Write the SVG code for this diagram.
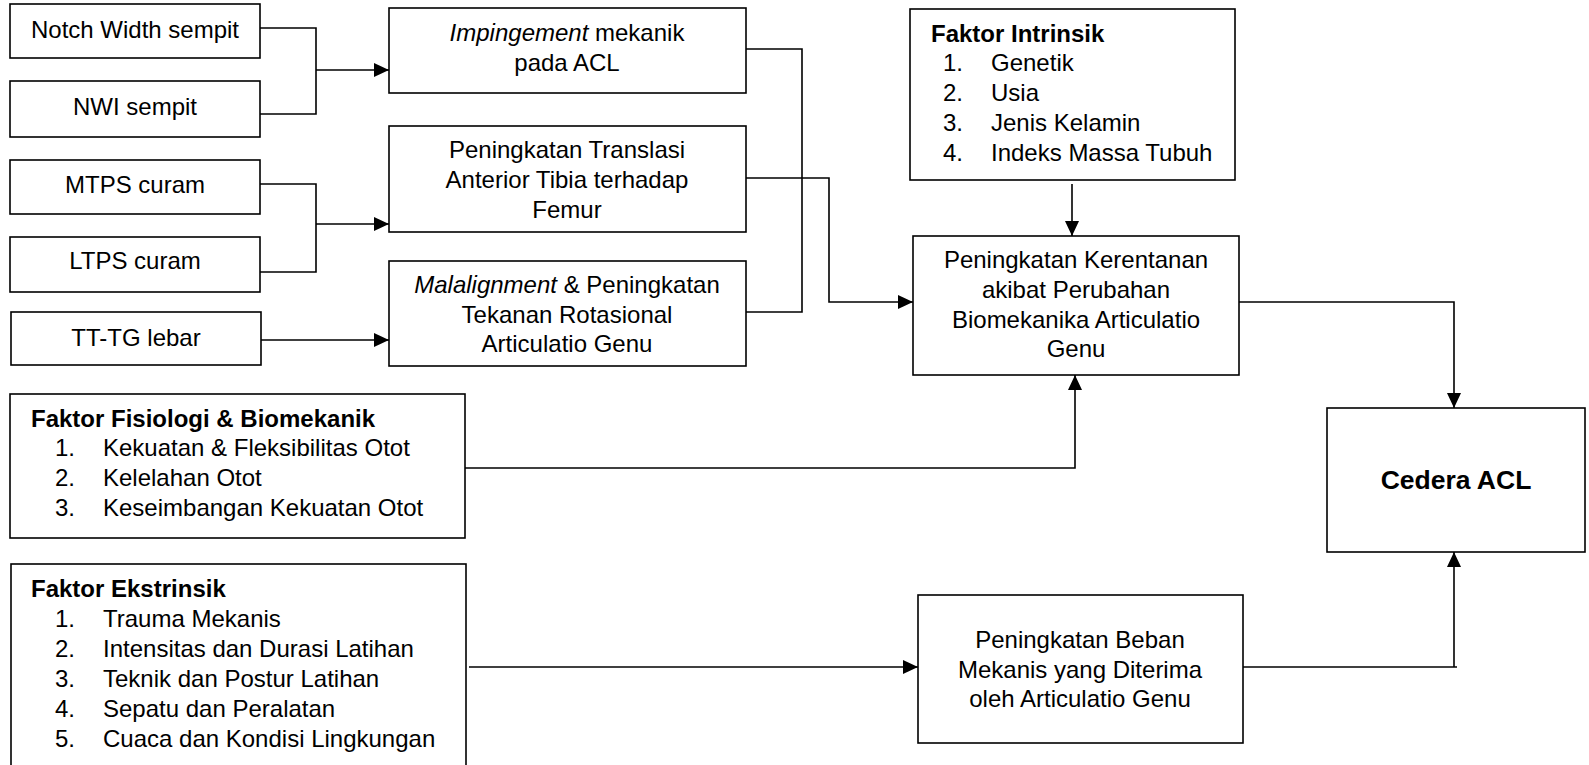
<svg xmlns="http://www.w3.org/2000/svg" width="1589" height="765" viewBox="0 0 1589 765">
<defs>
<style>
.box{fill:#fff;stroke:#000;stroke-width:1.6}
.t{font-family:"Liberation Sans",Arial,sans-serif;font-size:24px;fill:#000}
.c{text-anchor:middle}
.b{font-weight:bold}
.conn path{fill:none;stroke:#000;stroke-width:1.6}
</style>
<marker id="arr" markerUnits="userSpaceOnUse" markerWidth="16" markerHeight="14" refX="15" refY="7" orient="auto">
<path d="M0,0 L15,7 L0,14 z" fill="#000"/>
</marker>
</defs>
<rect width="1589" height="765" fill="#fff"/>

<g class="conn" id="connectors">
<path d="M260,28 H316 V114 H260"/>
<path d="M316,70 H389" marker-end="url(#arr)"/>
<path d="M260,184 H316 V272 H260"/>
<path d="M316,224 H389" marker-end="url(#arr)"/>
<path d="M261,340 H389" marker-end="url(#arr)"/>
<path d="M746,49 H802 V312 H746"/>
<path d="M746,178 H829 V302 H913" marker-end="url(#arr)"/>
<path d="M1072,184 V236" marker-end="url(#arr)"/>
<path d="M465,468 H1075 V375" marker-end="url(#arr)"/>
<path d="M1239,302 H1454 V408" marker-end="url(#arr)"/>
<path d="M469,667 H918" marker-end="url(#arr)"/>
<path d="M1243,667 H1457"/>
<path d="M1454,667 V552" marker-end="url(#arr)"/>
</g>

<g id="notch">
<rect class="box" x="10" y="4" width="250" height="54"/>
<text class="t c" x="135" y="38">Notch Width sempit</text>
</g>
<g id="nwi">
<rect class="box" x="10" y="81" width="250" height="56"/>
<text class="t c" x="135" y="115">NWI sempit</text>
</g>
<g id="mtps">
<rect class="box" x="10" y="160" width="250" height="54"/>
<text class="t c" x="135" y="193">MTPS curam</text>
</g>
<g id="ltps">
<rect class="box" x="10" y="237" width="250" height="55"/>
<text class="t c" x="135" y="269">LTPS curam</text>
</g>
<g id="tttg">
<rect class="box" x="11" y="312" width="250" height="53"/>
<text class="t c" x="136" y="346">TT-TG lebar</text>
</g>

<g id="impingement">
<rect class="box" x="389" y="8" width="357" height="85"/>
<text class="t c" x="567" y="41"><tspan font-style="italic">Impingement</tspan> mekanik</text>
<text class="t c" x="567" y="71">pada ACL</text>
</g>
<g id="translasi">
<rect class="box" x="389" y="126" width="357" height="106"/>
<text class="t c" x="567" y="158">Peningkatan Translasi</text>
<text class="t c" x="567" y="188">Anterior Tibia terhadap</text>
<text class="t c" x="567" y="218">Femur</text>
</g>
<g id="malalignment">
<rect class="box" x="389" y="261" width="357" height="105"/>
<text class="t c" x="567" y="293"><tspan font-style="italic">Malalignment</tspan> &amp; Peningkatan</text>
<text class="t c" x="567" y="323">Tekanan Rotasional</text>
<text class="t c" x="567" y="352">Articulatio Genu</text>
</g>

<g id="intrinsik">
<rect class="box" x="910" y="9" width="325" height="171"/>
<text class="t b" x="931" y="42">Faktor Intrinsik</text>
<text class="t" x="943" y="71">1.</text><text class="t" x="991" y="71">Genetik</text>
<text class="t" x="943" y="101">2.</text><text class="t" x="991" y="101">Usia</text>
<text class="t" x="943" y="131">3.</text><text class="t" x="991" y="131">Jenis Kelamin</text>
<text class="t" x="943" y="161">4.</text><text class="t" x="991" y="161">Indeks Massa Tubuh</text>
</g>

<g id="kerentanan">
<rect class="box" x="913" y="236" width="326" height="139"/>
<text class="t c" x="1076" y="268">Peningkatan Kerentanan</text>
<text class="t c" x="1076" y="298">akibat Perubahan</text>
<text class="t c" x="1076" y="328">Biomekanika Articulatio</text>
<text class="t c" x="1076" y="357">Genu</text>
</g>

<g id="fisiologi">
<rect class="box" x="10" y="394" width="455" height="144"/>
<text class="t b" x="31" y="427">Faktor Fisiologi &amp; Biomekanik</text>
<text class="t" x="55" y="456">1.</text><text class="t" x="103" y="456">Kekuatan &amp; Fleksibilitas Otot</text>
<text class="t" x="55" y="486">2.</text><text class="t" x="103" y="486">Kelelahan Otot</text>
<text class="t" x="55" y="516">3.</text><text class="t" x="103" y="516">Keseimbangan Kekuatan Otot</text>
</g>

<g id="ekstrinsik">
<rect class="box" x="11" y="564" width="455" height="220"/>
<text class="t b" x="31" y="597">Faktor Ekstrinsik</text>
<text class="t" x="55" y="627">1.</text><text class="t" x="103" y="627">Trauma Mekanis</text>
<text class="t" x="55" y="657">2.</text><text class="t" x="103" y="657">Intensitas dan Durasi Latihan</text>
<text class="t" x="55" y="687">3.</text><text class="t" x="103" y="687">Teknik dan Postur Latihan</text>
<text class="t" x="55" y="717">4.</text><text class="t" x="103" y="717">Sepatu dan Peralatan</text>
<text class="t" x="55" y="747">5.</text><text class="t" x="103" y="747">Cuaca dan Kondisi Lingkungan</text>
</g>

<g id="beban">
<rect class="box" x="918" y="595" width="325" height="148"/>
<text class="t c" x="1080" y="648">Peningkatan Beban</text>
<text class="t c" x="1080" y="678">Mekanis yang Diterima</text>
<text class="t c" x="1080" y="707">oleh Articulatio Genu</text>
</g>

<g id="cedera">
<rect class="box" x="1327" y="408" width="258" height="144"/>
<text class="t c b" x="1456" y="489" style="font-size:26.5px">Cedera ACL</text>
</g>
</svg>
